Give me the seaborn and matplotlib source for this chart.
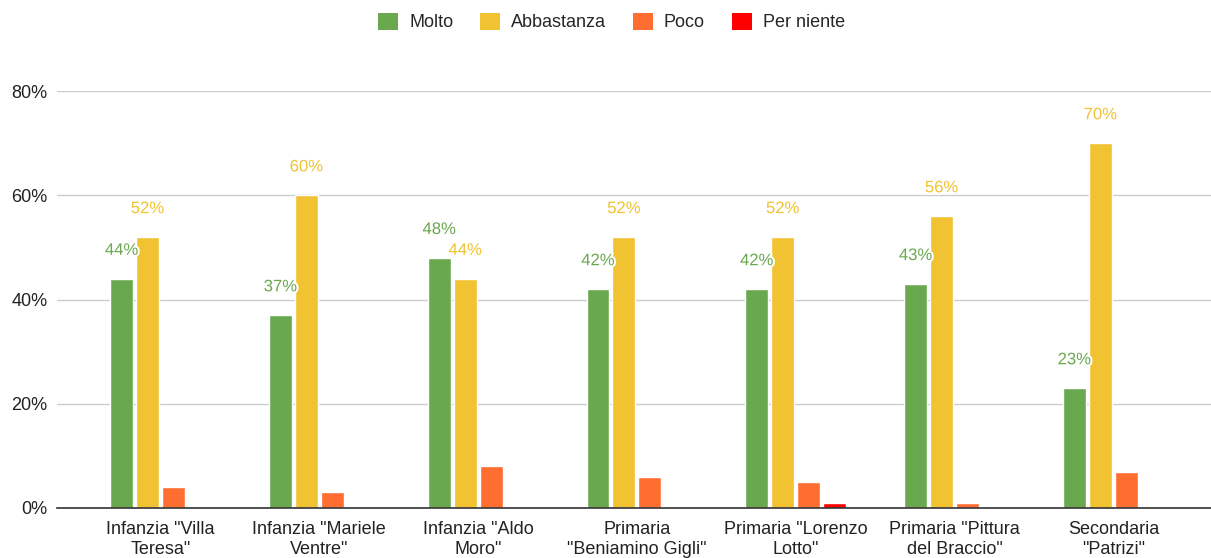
import matplotlib
matplotlib.use("Agg")
import matplotlib.pyplot as plt
import matplotlib.patheffects as pe
from matplotlib.ticker import FuncFormatter
from matplotlib.patches import Patch
import seaborn as sns
import pandas as pd

categories = ['Infanzia "Villa\nTeresa"', 'Infanzia "Mariele\nVentre"', 'Infanzia "Aldo\nMoro"',
              'Primaria\n"Beniamino Gigli"', 'Primaria "Lorenzo\nLotto"', 'Primaria "Pittura\ndel Braccio"',
              'Secondaria\n"Patrizi"']
series_names = ["Molto", "Abbastanza", "Poco", "Per niente"]
molto = [44, 37, 48, 42, 42, 43, 23]
abbastanza = [52, 60, 44, 52, 52, 56, 70]
poco = [4, 3, 8, 6, 5, 1, 7]
per_niente = [0, 0, 0, 0, 1, 0, 0]
colors = ["#6aa84f", "#f1c232", "#ff6d31", "#ff0000"]
yticks = [0, 20, 40, 60, 80]

rows = []
for name, vals in zip(series_names, [molto, abbastanza, poco, per_niente]):
    for c, v in zip(categories, vals):
        rows.append({"Scuola": c, "Serie": name, "Valore": v})
df = pd.DataFrame(rows)

sns.set_style("white")
plt.rcParams['font.family'] = ['Liberation Sans', 'DejaVu Sans']

fig = plt.figure(figsize=(12.11, 5.58), dpi=100)
ax = fig.add_axes([57/1211, 1-508/558, 1-57/1211, (508-91)/558])

sns.barplot(data=df, x="Scuola", y="Valore", hue="Serie", hue_order=series_names,
            order=categories, palette=colors, width=0.654, gap=0.115,
            saturation=1, legend=False, ax=ax, err_kws={'linewidth': 0})

ax.set_ylim(0, 80)
ax.set_xlim(-0.652, 6.615)
ax.set_yticks(yticks)
ax.yaxis.set_major_formatter(FuncFormatter(lambda v, p: f"{int(v)}%"))
ax.grid(axis='y', color='#cccccc', linewidth=1)
ax.set_axisbelow(True)
for s in ['top', 'right', 'left']:
    ax.spines[s].set_visible(False)
ax.spines['bottom'].set_color('#333333')
ax.spines['bottom'].set_linewidth(1.2)
ax.tick_params(axis='both', length=0, labelsize=13, colors='#222222')
ax.tick_params(axis='x', pad=9)
ax.tick_params(axis='y', pad=7)
for t in ax.get_xticklabels():
    t.set_linespacing(1.3)
ax.set_xlabel("")
ax.set_ylabel("")

for i, cont in enumerate(ax.containers[:2]):
    labels = ax.bar_label(cont, fmt="%d%%", padding=15, fontsize=12, color=colors[i])
    for t in labels:
        t.set_path_effects([pe.withStroke(linewidth=3, foreground='white')])

handles = [Patch(facecolor=c, edgecolor='none') for c in colors]
fig.legend(handles, series_names, loc='center', bbox_to_anchor=(0.505, 1-22/558), ncol=4,
           frameon=False, fontsize=13, handlelength=1.1, handleheight=1.1,
           handletextpad=0.6, columnspacing=1.5)

fig.savefig("out.png", dpi=100)
